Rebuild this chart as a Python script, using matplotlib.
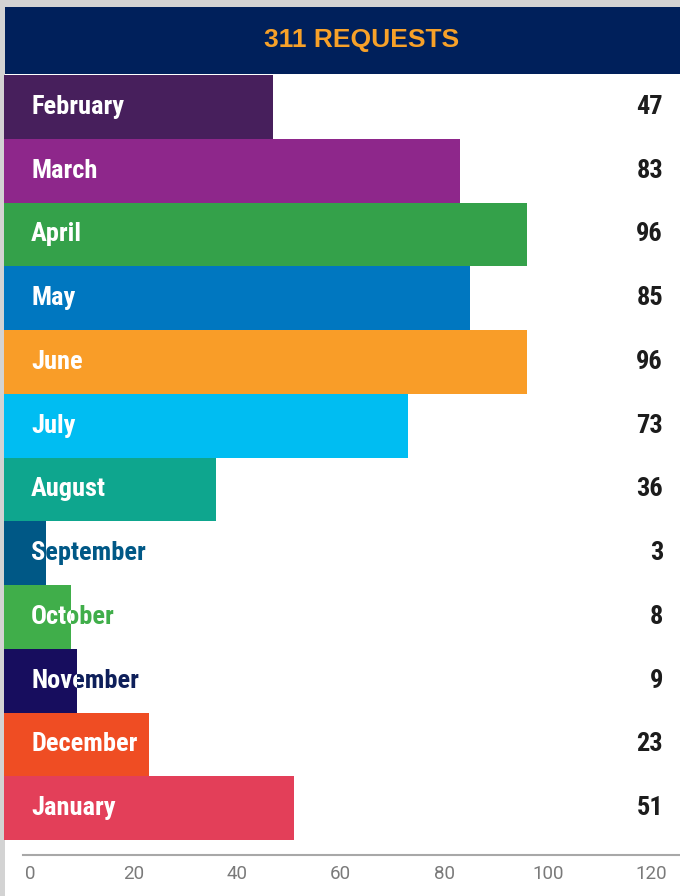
import matplotlib
matplotlib.use("Agg")
import matplotlib.pyplot as plt
from matplotlib import font_manager
from matplotlib.patches import Rectangle

# data
months = ["February", "March", "April", "May", "June", "July", "August",
          "September", "October", "November", "December", "January"]
requests = [47, 83, 96, 85, 96, 73, 36, 3, 8, 9, 23, 51]
colors = ["#471f5c", "#8e278b", "#34a14a", "#0077c0", "#f99d28", "#00bdf2",
          "#0ea68e", "#005886", "#40ae4a", "#170d5e", "#ef4d23", "#e33f59"]
text_colors = ["#471f5c", "#8e278b", "#34a14a", "#0077c0", "#f99d28", "#00bdf2",
               "#0ea68e", "#005886", "#40ae4a", "#0e1f5a", "#ef4d23", "#e33f59"]
ticks = [0, 20, 40, 60, 80, 100, 120]

# pick a narrow bold font if one is there
fonts = font_manager.fontManager.ttflist
names = {f.name for f in fonts}
label_font, label_stretch = "Roboto", "normal"
for cand in ["Roboto Condensed", "Liberation Sans Narrow", "Open Sans Condensed"]:
    if cand in names:
        label_font, label_stretch = cand, "normal"
        break
else:
    if any(f.name == "DejaVu Sans" and f.stretch == "condensed" for f in fonts):
        label_font, label_stretch = "DejaVu Sans", "condensed"

W, H = 680, 896
fig = plt.figure(figsize=(W / 100, H / 100), dpi=100, facecolor="#d3d3d3")

# white panel + navy header
fig.patches.append(Rectangle((5 / W, 0), 1 - 5 / W, 1 - 7 / H, transform=fig.transFigure,
                             facecolor="white", edgecolor="none", zorder=-3))
fig.patches.append(Rectangle((5 / W, 1 - 74 / H), 1 - 5 / W, 67 / H, transform=fig.transFigure,
                             facecolor="#00205b", edgecolor="none", zorder=-2))
fig.text(362 / W, 1 - 40 / H, "311 REQUESTS", color="#f7a129", fontsize=19,
         fontweight="bold", family=["Liberation Sans", "DejaVu Sans"],
         ha="center", va="center")

ax = fig.add_axes([4 / W, 1 - 855 / H, 676 / W, 780 / H])
ax.set_facecolor("none")

xmin = -5.02
ax.set_xlim(xmin, 125.5)
ax.set_ylim(11.5 + 15 / 63.75, -0.5)

ytr = ax.get_yaxis_transform()
txt = dict(fontsize=19, fontweight="bold", family=[label_font, "DejaVu Sans"],
           fontstretch=label_stretch, va="center")

for i, (m, v, c, tc) in enumerate(zip(months, requests, colors, text_colors)):
    bar = ax.barh(i, v - xmin, left=xmin, height=1.0, color=c, linewidth=0)[0]
    # coloured label underneath, white copy clipped to the bar on top
    ax.text(0.040, i, m, transform=ytr, color=tc, ha="left", zorder=3, **txt)
    t = ax.text(0.040, i, m, transform=ytr, color="white", ha="left", zorder=4, **txt)
    t.set_clip_on(True)
    t.set_clip_path(bar)
    ax.text(0.975, i, str(v), transform=ytr, color="#1c1c1c", ha="right", zorder=3, **txt)

for s in ["top", "right", "left"]:
    ax.spines[s].set_visible(False)
ax.spines["bottom"].set_color("#a8a8a8")
ax.spines["bottom"].set_linewidth(1.5)
ax.spines["bottom"].set_bounds(-1.35, 125.5)
ax.set_yticks([])
ax.set_xticks(ticks)
ax.tick_params(axis="x", length=0, pad=7, labelsize=13.5, labelcolor="#7a7a7a")
for lab in ax.get_xticklabels():
    lab.set_family(["Roboto", "DejaVu Sans"])

fig.savefig("out.png", dpi=100, facecolor=fig.get_facecolor())
